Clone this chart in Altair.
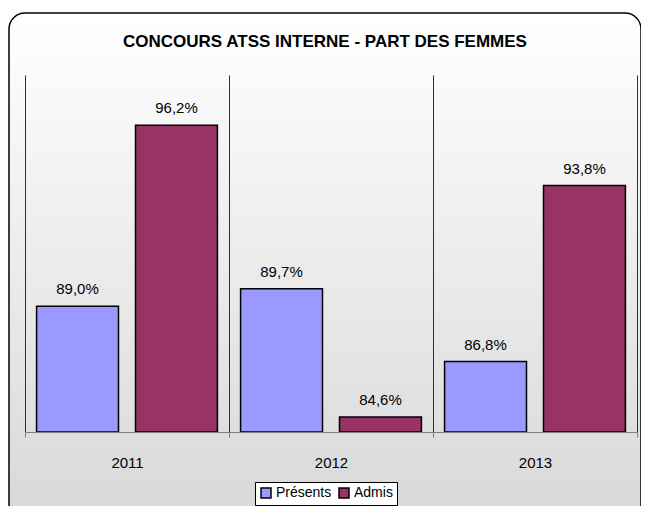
import altair as alt
import pandas as pd

years = ["2011", "2012", "2013"]
series = ["Présents", "Admis"]
presents = [89.0, 89.7, 86.8]
admis = [96.2, 84.6, 93.8]
colors = ["#9999FF", "#993366"]
title_text = "CONCOURS ATSS INTERNE - PART DES FEMMES"

rows = []
for i, y in enumerate(years):
    for s, v in zip(series, [presents[i], admis[i]]):
        rows.append({"year": y, "series": s, "value": v,
                     "label": f"{v:.1f}".replace(".", ",") + "%"})
df = pd.DataFrame(rows)

FONT = "Liberation Sans"

bg = alt.Chart(pd.DataFrame({"a": [0]})).mark_rect(
    cornerRadius=16,
    stroke="black",
    strokeWidth=1.5,
    fill=alt.Gradient(
        gradient="linear",
        stops=[alt.GradientStop(color="#FFFFFF", offset=0),
               alt.GradientStop(color="#D8D8D8", offset=1)],
        x1=0, x2=0, y1=0, y2=1,
    ),
).encode(
    x=alt.value(-16), x2=alt.value(616),
    y=alt.value(-62), y2=alt.value(445),
)

title = alt.Chart(pd.DataFrame({"t": [title_text]})).mark_text(
    fontSize=17, font=FONT, fontWeight="bold", color="black",
    align="center", baseline="middle",
).encode(x=alt.value(300), y=alt.value(-33), text="t:N")

x_enc = alt.X(
    "year:N",
    sort=years,
    scale=alt.Scale(paddingInner=0, paddingOuter=0),
    axis=alt.Axis(
        title=None, labelAngle=0, labelFontSize=15, labelFont=FONT,
        labelColor="black", tickBand="extent", grid=True,
        gridColor="#303030", gridWidth=1, domainColor="#808080",
        tickColor="#808080", tickSize=5, labelPadding=18, zindex=1,
    ),
)
xo = alt.XOffset("series:N", sort=series,
                 scale=alt.Scale(paddingInner=0.172, paddingOuter=0.117))
y_enc = alt.Y("value:Q", axis=None,
              scale=alt.Scale(domain=[84, 98.2], zero=False, nice=False))

bars = alt.Chart(df).mark_bar(stroke="black", strokeWidth=1.5).encode(
    x=x_enc,
    xOffset=xo,
    y=y_enc,
    y2=alt.datum(84),
    color=alt.Color(
        "series:N", sort=series,
        scale=alt.Scale(domain=series, range=colors),
        legend=alt.Legend(
            title=None, orient="none", legendX=230, legendY=407,
            direction="horizontal", symbolType="square", symbolSize=100,
            symbolStrokeColor="black", symbolStrokeWidth=1.5,
            labelFontSize=14, labelFont=FONT, labelColor="black",
            labelOffset=3, columnPadding=4, padding=4,
            strokeColor="black", fillColor="white",
        ),
    ),
)

labels = alt.Chart(df).mark_text(
    fontSize=15, font=FONT, color="black", baseline="alphabetic", dy=-12
).encode(
    x=alt.X("year:N", sort=years),
    xOffset=xo,
    y=y_enc,
    text="label:N",
)

chart = alt.layer(bg, title, bars, labels).properties(
    width=612,
    height=357,
    padding={"left": 17, "top": 67, "right": 4, "bottom": 74},
    autosize=alt.AutoSizeParams(type="none"),
    background="white",
).configure_view(strokeWidth=0)

chart.save("out.html", embed_options={"renderer": "svg", "actions": False})
